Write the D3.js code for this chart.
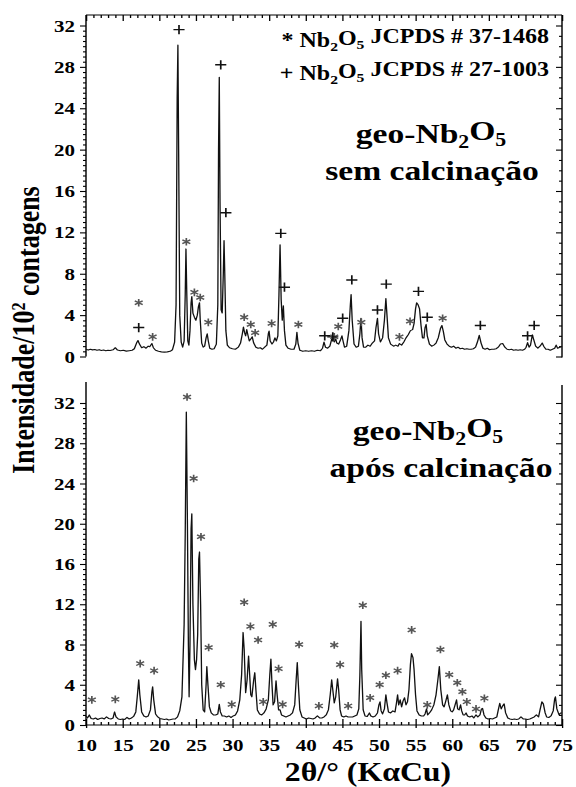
<!DOCTYPE html>
<html>
<head>
<meta charset="utf-8">
<script src="https://cdn.jsdelivr.net/npm/d3@7"></script>
<style>
  body { margin: 0; background: #fff; }
  svg { display: block; }
</style>
</head>
<body>
<script>
// XRD patterns of geo-Nb2O5, before and after calcination
// [2theta (deg), intensity (10^2 counts)]
var topScan = [
  [10.0,0.70],[10.3,0.62],[10.6,0.70],[10.9,0.64],[11.2,0.68],[11.5,0.60],[11.8,0.66],[12.1,0.58],
  [12.4,0.62],[12.7,0.55],[13.0,0.60],[13.3,0.58],[13.7,0.65],[14.0,0.85],[14.3,0.62],[14.7,0.55],
  [15.1,0.60],[15.5,0.52],[15.9,0.56],[16.3,0.60],[16.6,0.75],[16.9,1.30],[17.1,1.55],[17.3,1.20],
  [17.6,0.85],[17.9,0.95],[18.2,0.80],[18.5,1.00],[18.7,0.95],[19.0,1.25],[19.2,0.85],[19.5,0.60],
  [19.9,0.50],[20.3,0.45],[20.7,0.42],[21.1,0.45],[21.5,0.50],[21.8,0.65],[22.1,1.4],[22.3,5.0],
  [22.45,25.0],[22.55,30.1],[22.65,20.0],[22.8,4.0],[23.0,1.4],[23.2,0.9],[23.4,1.5],[23.55,6.0],
  [23.65,10.4],[23.75,6.5],[23.9,1.5],[24.05,1.1],[24.2,2.5],[24.35,5.2],[24.45,5.8],[24.6,4.2],
  [24.8,3.8],[25.0,3.5],[25.2,4.0],[25.35,4.8],[25.5,5.2],[25.6,3.5],[25.8,1.3],[26.0,0.9],
  [26.2,1.0],[26.4,1.8],[26.55,2.2],[26.7,1.5],[26.9,0.8],[27.2,0.7],[27.5,0.75],[27.8,1.2],
  [28.0,5.0],[28.1,20.0],[28.2,27.0],[28.3,15.0],[28.45,4.5],[28.6,4.2],[28.75,8.0],[28.85,11.2],
  [28.95,8.0],[29.1,2.5],[29.3,1.1],[29.6,0.85],[30.0,0.75],[30.4,0.7],[30.8,0.9],[31.1,1.3],
  [31.35,2.2],[31.5,2.85],[31.65,2.3],[31.8,2.0],[31.95,2.6],[32.1,2.1],[32.3,1.5],[32.5,1.7],
  [32.7,1.9],[32.9,1.3],[33.2,0.9],[33.5,0.8],[33.8,0.85],[34.1,0.7],[34.4,0.9],[34.7,1.1],
  [34.9,2.2],[35.0,2.45],[35.15,1.5],[35.4,1.2],[35.6,1.4],[35.8,1.8],[36.0,1.5],[36.2,2.0],
  [36.35,6.0],[36.5,10.8],[36.65,5.5],[36.8,3.5],[36.95,4.9],[37.1,2.5],[37.3,1.1],[37.6,0.8],
  [38.0,0.7],[38.4,0.7],[38.65,1.2],[38.8,2.35],[38.95,1.3],[39.2,0.6],[39.6,0.5],[40.0,0.55],
  [40.4,0.5],[40.8,0.55],[41.2,0.5],[41.6,0.6],[42.0,0.55],[42.3,0.8],[42.5,1.4],[42.7,0.9],
  [43.0,0.8],[43.3,1.0],[43.6,1.8],[43.75,1.95],[43.9,1.4],[44.1,1.7],[44.25,1.3],[44.5,1.2],
  [44.75,1.6],[44.95,2.0],[45.1,1.5],[45.3,0.9],[45.6,1.0],[45.9,2.5],[46.1,5.0],[46.2,6.0],
  [46.35,3.5],[46.6,1.2],[46.9,0.9],[47.2,1.0],[47.4,2.2],[47.55,3.7],[47.7,1.8],[47.9,0.9],
  [48.2,0.9],[48.5,1.1],[48.8,1.0],[49.1,1.3],[49.4,1.5],[49.6,2.8],[49.8,3.7],[49.95,2.2],
  [50.2,1.4],[50.5,1.8],[50.75,3.5],[50.95,5.6],[51.1,4.0],[51.3,1.8],[51.6,1.2],[52.0,1.0],
  [52.3,1.1],[52.6,1.0],[52.8,1.25],[53.1,1.1],[53.4,1.4],[53.7,1.8],[54.0,2.1],[54.3,2.5],
  [54.6,2.6],[54.8,3.2],[55.0,4.6],[55.15,5.2],[55.35,5.0],[55.55,4.6],[55.75,3.0],[55.95,1.8],
  [56.15,1.8],[56.3,2.8],[56.45,3.1],[56.6,2.0],[56.9,1.2],[57.2,1.0],[57.5,1.1],[57.8,1.3],
  [58.1,1.8],[58.4,2.7],[58.6,3.0],[58.8,2.4],[59.0,1.6],[59.3,1.2],[59.6,1.0],[59.9,0.9],
  [60.2,1.0],[60.5,0.8],[60.8,0.9],[61.1,0.75],[61.4,0.8],[61.7,0.7],[62.0,0.75],[62.3,0.7],
  [62.6,0.7],[62.9,0.75],[63.2,0.9],[63.45,1.4],[63.7,2.05],[63.95,1.3],[64.2,0.8],[64.5,0.7],
  [64.8,0.8],[65.1,0.65],[65.4,0.7],[65.7,0.7],[66.0,0.75],[66.3,0.9],[66.6,1.2],[66.9,1.25],
  [67.2,0.9],[67.5,0.7],[67.8,0.65],[68.1,0.7],[68.4,0.6],[68.7,0.65],[69.0,0.6],[69.3,0.65],
  [69.6,0.6],[69.9,0.7],[70.1,0.9],[70.3,1.35],[70.5,0.9],[70.7,1.1],[70.95,2.1],[71.15,1.6],
  [71.4,1.0],[71.7,0.8],[72.0,1.0],[72.3,1.3],[72.5,1.0],[72.8,0.7],[73.1,0.7],[73.4,0.6],
  [73.7,0.7],[74.0,0.8],[74.2,1.1],[74.4,0.8],[74.7,0.9],[75.0,1.0]
];

var bottomScan = [
  [10.0,0.9],[10.2,0.7],[10.45,1.0],[10.7,0.65],[11.0,0.6],[11.3,0.7],[11.6,0.55],[11.9,0.65],
  [12.2,0.7],[12.5,0.6],[12.8,0.8],[13.1,0.65],[13.4,0.6],[13.7,0.7],[13.9,1.3],[14.1,0.8],
  [14.4,0.6],[14.7,0.55],[15.0,0.6],[15.3,0.55],[15.6,0.75],[15.9,0.6],[16.2,0.7],[16.5,0.85],
  [16.8,1.3],[17.0,2.8],[17.2,4.5],[17.35,3.0],[17.6,1.3],[17.9,0.9],[18.2,0.8],[18.5,0.9],
  [18.8,1.5],[19.0,3.3],[19.1,3.8],[19.25,2.5],[19.5,1.1],[19.8,0.8],[20.1,0.65],[20.4,0.6],
  [20.7,0.55],[21.0,0.6],[21.3,0.5],[21.6,0.55],[21.9,0.6],[22.2,0.6],[22.5,0.8],[22.8,1.4],
  [23.1,2.8],[23.4,10.0],[23.55,19.0],[23.7,31.1],[23.85,20.0],[23.98,8.0],[24.08,2.8],[24.2,8.0],
  [24.35,19.5],[24.45,21.0],[24.6,12.0],[24.8,6.5],[24.95,5.5],[25.1,6.5],[25.25,9.0],[25.4,16.5],
  [25.5,17.2],[25.65,12.0],[25.8,4.0],[26.0,1.5],[26.2,1.3],[26.4,4.0],[26.5,5.8],[26.65,4.0],
  [26.85,1.8],[27.1,1.2],[27.4,1.0],[27.7,1.0],[28.0,1.1],[28.2,2.05],[28.35,1.3],[28.6,0.9],
  [28.9,0.9],[29.2,0.8],[29.5,0.9],[29.8,0.75],[30.1,0.9],[30.4,1.0],[30.7,1.4],[31.0,2.5],
  [31.25,5.0],[31.45,9.2],[31.6,7.5],[31.8,3.2],[32.0,4.5],[32.2,6.85],[32.35,5.0],[32.5,3.0],
  [32.65,2.8],[32.9,4.5],[33.05,5.2],[33.2,3.5],[33.4,1.5],[33.7,1.1],[34.0,1.0],[34.3,1.2],
  [34.6,1.6],[34.9,2.5],[35.1,5.0],[35.25,6.55],[35.4,4.0],[35.55,2.0],[35.75,2.3],[35.95,4.4],
  [36.1,3.0],[36.3,1.5],[36.5,1.5],[36.7,1.0],[37.0,0.9],[37.3,0.8],[37.6,0.9],[37.9,1.0],
  [38.2,1.2],[38.5,2.0],[38.7,4.5],[38.85,6.2],[39.0,4.0],[39.2,1.5],[39.5,0.8],[39.8,0.7],
  [40.1,0.6],[40.4,0.7],[40.7,0.65],[41.0,0.6],[41.3,0.7],[41.6,0.9],[41.9,0.7],[42.2,0.7],
  [42.5,0.8],[42.8,1.0],[43.1,1.5],[43.35,3.0],[43.55,4.5],[43.7,3.5],[43.9,2.2],[44.1,2.8],
  [44.35,4.6],[44.5,3.5],[44.7,1.5],[44.9,0.9],[45.2,0.8],[45.5,0.9],[45.8,0.8],[46.1,0.8],
  [46.4,0.8],[46.7,0.9],[47.0,1.0],[47.25,1.6],[47.4,5.0],[47.55,10.3],[47.65,5.5],[47.85,1.5],
  [48.1,0.9],[48.4,0.85],[48.7,1.2],[48.9,0.9],[49.2,0.8],[49.5,0.9],[49.8,1.2],[50.0,2.0],
  [50.15,2.3],[50.3,1.4],[50.5,1.1],[50.75,1.6],[50.95,3.0],[51.1,2.2],[51.3,1.3],[51.6,1.2],
  [51.9,1.4],[52.2,1.3],[52.4,2.2],[52.55,3.0],[52.7,2.0],[52.9,2.5],[53.1,1.8],[53.3,2.4],
  [53.5,2.7],[53.7,2.0],[53.9,2.3],[54.1,3.5],[54.3,6.0],[54.45,7.1],[54.65,6.7],[54.8,5.5],
  [55.0,3.0],[55.2,1.4],[55.5,1.0],[55.8,0.9],[56.1,0.9],[56.3,1.1],[56.5,1.6],[56.65,1.0],
  [56.9,1.2],[57.2,1.5],[57.5,2.0],[57.8,3.0],[58.05,4.5],[58.25,5.8],[58.45,3.5],[58.7,2.0],
  [58.9,1.8],[59.1,2.3],[59.35,3.0],[59.55,2.0],[59.8,1.4],[60.0,1.3],[60.2,1.5],[60.4,2.0],
  [60.6,2.5],[60.75,1.6],[60.95,1.5],[61.15,2.0],[61.3,1.4],[61.5,1.0],[61.7,1.0],[61.9,1.2],
  [62.1,0.9],[62.4,0.8],[62.7,0.9],[62.95,0.7],[63.25,1.0],[63.5,0.8],[63.8,1.0],[64.0,1.6],
  [64.15,1.65],[64.35,1.0],[64.6,0.7],[64.9,0.6],[65.2,0.65],[65.5,0.6],[65.8,0.7],[66.1,0.8],
  [66.3,1.5],[66.5,2.15],[66.7,1.6],[66.9,1.9],[67.1,2.1],[67.3,1.2],[67.6,0.7],[67.9,0.6],
  [68.2,0.55],[68.5,0.6],[68.8,0.55],[69.1,0.6],[69.4,0.8],[69.7,0.6],[70.0,0.6],[70.3,0.55],
  [70.6,0.6],[70.9,0.7],[71.2,0.8],[71.5,1.0],[71.8,0.8],[72.0,1.5],[72.25,2.3],[72.45,2.1],
  [72.7,1.2],[72.9,0.8],[73.2,0.75],[73.5,0.9],[73.8,1.4],[74.0,2.6],[74.1,2.8],[74.3,1.6],
  [74.6,1.0],[74.8,1.2],[75.0,1.2]
];

// phase markers: * = JCPDS 37-1468, + = JCPDS 27-1003  [2theta, height]
var topStars = [
  [17.2,5.2],[19.1,1.9],[23.7,11.1],[24.8,6.2],[25.6,5.7],[26.7,3.3],[31.6,3.8],[32.5,3.1],
  [33.1,2.3],[35.35,3.2],[39.0,3.1],[43.9,1.9],[44.45,2.9],[47.6,3.3],[52.8,1.9],[54.25,3.4],
  [58.7,3.7]
];
var topPlus = [
  [17.2,2.8],[22.7,31.6],[28.4,28.2],[29.1,13.9],[36.6,11.9],[37.1,6.7],[42.6,2.0],[43.7,1.9],
  [45.05,3.7],[46.3,7.4],[49.8,4.5],[51.0,7.0],[55.4,6.3],[56.6,3.8],[63.85,3.0],[70.3,2.0],
  [71.2,3.0]
];
var bottomStars = [
  [10.8,2.5],[14.0,2.55],[17.4,6.1],[19.3,5.4],[23.8,32.6],[24.7,24.5],[25.7,18.7],[26.75,7.7],
  [28.4,4.0],[29.9,2.05],[31.6,12.2],[32.45,9.8],[33.5,8.45],[34.2,2.3],[35.5,10.0],[36.3,5.6],
  [36.85,2.05],[39.1,8.0],[41.8,1.9],[43.9,7.95],[44.7,6.0],[45.8,1.9],[47.8,11.9],[48.8,2.7],
  [50.1,4.0],[50.95,4.95],[52.55,5.4],[54.47,9.45],[56.6,2.0],[58.4,7.5],[59.6,5.0],[60.7,4.2],
  [61.4,3.3],[62.0,2.3],[63.26,1.6],[64.4,2.65]
];

var xTickValues = [10,15,20,25,30,35,40,45,50,55,60,65,70,75];
var yTickValues = [0,4,8,12,16,20,24,28,32];

window.onload = function() {
  var W = 576, H = 787;
  // the original figure is stretched sideways, so draw narrow and stretch the whole svg
  var SX = 1.2;
  var px = function(p) { return p / SX; };
  var FONT = "'Liberation Serif', 'Times New Roman', serif";

  var svg = d3.select("body").append("svg")
    .attr("width", W)
    .attr("height", H)
    .attr("viewBox", "0 0 " + (W / SX) + " " + H)
    .attr("preserveAspectRatio", "none");

  var x = d3.scaleLinear().domain([10, 75]).range([px(86), px(562)]);
  var yTop = d3.scaleLinear().domain([0, 32]).range([356.5, 25.5]);
  var yBot = d3.scaleLinear().domain([0, 32]).range([725, 403]);

  var xMinor = d3.range(10, 76, 1).filter(function(v) { return v % 5 != 0; });
  var yMinorLeft = d3.range(0, 32.01, 0.5).filter(function(v) { return v % 4 != 0; });
  var yMinorRight = d3.range(0, 33, 1).filter(function(v) { return v % 4 != 0; });

  function styleAxis(g, size) {
    g.select(".domain").remove();
    g.selectAll("line").attr("stroke", "#000").attr("stroke-width", 1.1);
    g.selectAll("text")
      .attr("font-family", FONT)
      .attr("font-size", size || 17.5)
      .attr("font-weight", "bold")
      .attr("fill", "#000");
  }

  function drawPanel(y, topEdge, rightTop, hasTopAxis, hasBottomAxis) {
    var g = svg.append("g");

    // left axis, ticks outward, labelled
    g.append("g")
      .attr("transform", "translate(" + x.range()[0] + ",0)")
      .call(d3.axisLeft(y).tickValues(yTickValues).tickSize(px(6)).tickPadding(px(5)))
      .call(styleAxis);
    g.append("g")
      .attr("transform", "translate(" + x.range()[0] + ",0)")
      .call(d3.axisLeft(y).tickValues(yMinorLeft).tickSize(px(3)).tickFormat(""))
      .call(styleAxis);

    // right axis, ticks inward
    g.append("g")
      .attr("transform", "translate(" + x.range()[1] + ",0)")
      .call(d3.axisLeft(y).tickValues(yTickValues).tickSize(px(6)).tickFormat(""))
      .call(styleAxis);
    g.append("g")
      .attr("transform", "translate(" + x.range()[1] + ",0)")
      .call(d3.axisLeft(y).tickValues(yMinorRight).tickSize(px(3)).tickFormat(""))
      .call(styleAxis);

    g.append("line")
      .attr("x1", x.range()[0]).attr("x2", x.range()[0])
      .attr("y1", topEdge).attr("y2", y(0))
      .attr("stroke", "#000").attr("stroke-width", 1.2);
    g.append("line")
      .attr("x1", x.range()[1]).attr("x2", x.range()[1])
      .attr("y1", rightTop).attr("y2", y(0) + 1)
      .attr("stroke", "#000").attr("stroke-width", 1.2);

    if (hasTopAxis) {
      g.append("g")
        .attr("transform", "translate(0," + topEdge + ")")
        .call(d3.axisBottom(x).tickValues(xTickValues).tickSize(6).tickFormat(""))
        .call(styleAxis);
      g.append("g")
        .attr("transform", "translate(0," + topEdge + ")")
        .call(d3.axisBottom(x).tickValues(xMinor).tickSize(3).tickFormat(""))
        .call(styleAxis);
      g.append("line")
        .attr("x1", x.range()[0]).attr("x2", x.range()[1])
        .attr("y1", topEdge).attr("y2", topEdge)
        .attr("stroke", "#000").attr("stroke-width", 1.2);
    }

    if (hasBottomAxis) {
      var y0 = y(0);
      g.append("g")
        .attr("transform", "translate(0," + y0 + ")")
        .call(d3.axisBottom(x).tickValues(xTickValues).tickSize(-6).tickPadding(14))
        .call(styleAxis);
      g.append("g")
        .attr("transform", "translate(0," + y0 + ")")
        .call(d3.axisBottom(x).tickValues(xTickValues).tickSize(3).tickFormat(""))
        .call(styleAxis);
      g.append("g")
        .attr("transform", "translate(0," + y0 + ")")
        .call(d3.axisBottom(x).tickValues(xMinor).tickSize(-3).tickFormat(""))
        .call(styleAxis);
      g.append("line")
        .attr("x1", x.range()[0]).attr("x2", x.range()[1])
        .attr("y1", y0).attr("y2", y0)
        .attr("stroke", "#000").attr("stroke-width", 1.2);
    }
    return g;
  }

  drawPanel(yTop, 15, 15, true, false);
  drawPanel(yBot, 382, 385, false, true);

  // diffraction patterns
  function pattern(y) {
    return d3.line()
      .x(function(d) { return x(d[0]); })
      .y(function(d) { return y(d[1]); });
  }
  svg.append("path")
    .datum(topScan)
    .attr("d", pattern(yTop))
    .attr("fill", "none")
    .attr("stroke", "#111")
    .attr("stroke-width", 1.1)
    .attr("stroke-linejoin", "round");
  svg.append("path")
    .datum(bottomScan)
    .attr("d", pattern(yBot))
    .attr("fill", "none")
    .attr("stroke", "#111")
    .attr("stroke-width", 1.1)
    .attr("stroke-linejoin", "round");

  // phase markers
  var star = d3.symbol().type(d3.symbolAsterisk).size(40);
  var plus = d3.symbol().type(d3.symbolPlus).size(30);

  function markers(data, y, sym, colour) {
    svg.append("g").selectAll("path")
      .data(data)
      .enter()
      .append("path")
      .attr("transform", function(d) {
        return "translate(" + x(d[0]) + "," + y(d[1]) + ")";
      })
      .attr("d", sym)
      .attr("fill", "none")
      .attr("stroke", colour)
      .attr("stroke-width", 1.4);
  }
  markers(topStars, yTop, star, "#555");
  markers(topPlus, yTop, plus, "#111");
  markers(bottomStars, yBot, star, "#555");

  // text with Nb2O5 subscripts
  function formula(sel, before, after) {
    sel.append("tspan").text(before + "Nb");
    sel.append("tspan").attr("dy", "0.3em").attr("font-size", "0.65em").text("2");
    sel.append("tspan").attr("dy", "-0.3em").text("O");
    sel.append("tspan").attr("dy", "0.3em").attr("font-size", "0.65em").text("5");
    if (after) sel.append("tspan").attr("dy", "-0.3em").text(after);
  }

  function label(xp, yp, size, anchor) {
    return svg.append("text")
      .attr("x", px(xp))
      .attr("y", yp)
      .attr("text-anchor", anchor)
      .attr("font-family", FONT)
      .attr("font-weight", "bold")
      .attr("font-size", size)
      .attr("fill", "#000");
  }

  // legend
  formula(label(549, 47, 20, "end"), "* ", " JCPDS # 37-1468");
  formula(label(549, 80, 20, "end"), "+ ", " JCPDS # 27-1003");

  // panel titles
  formula(label(431, 143, 28, "middle"), "geo-", "");
  label(432, 180, 28, "middle").text("sem calcinação");
  formula(label(428, 440, 28, "middle"), "geo-", "");
  label(441, 477, 28, "middle").text("após calcinação");

  // axis titles
  label(368, 781, 26.5, "middle").text("2θ/° (KαCu)");

  var yl = svg.append("text")
    .attr("transform", "translate(" + px(34) + ",330) rotate(-90)")
    .attr("text-anchor", "middle")
    .attr("font-family", FONT)
    .attr("font-weight", "bold")
    .attr("font-size", 26)
    .attr("fill", "#000");
  yl.append("tspan").text("Intensidade/10");
  yl.append("tspan").attr("dy", "-0.45em").attr("font-size", "0.62em").text("2");
  yl.append("tspan").attr("dy", "0.45em").text(" contagens");
};
</script>
</body>
</html>
